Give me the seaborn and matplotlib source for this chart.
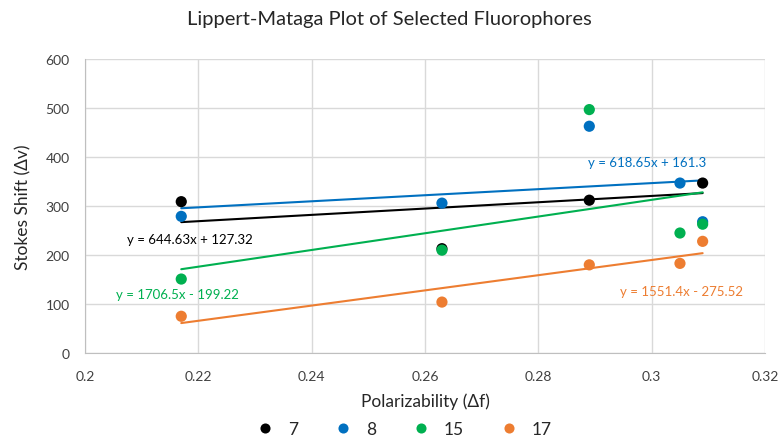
import matplotlib
matplotlib.use("Agg")
import matplotlib.pyplot as plt
import seaborn as sns
import pandas as pd
import numpy as np

# ---- data ----
series_names = ["7", "8", "15", "17"]
x_7 = [0.217, 0.263, 0.289, 0.309]
y_7 = [309, 213, 312, 347]
x_8 = [0.217, 0.263, 0.289, 0.305, 0.309]
y_8 = [279, 306, 463, 347, 268]
x_15 = [0.217, 0.263, 0.289, 0.305, 0.309]
y_15 = [151, 210, 497, 245, 263]
x_17 = [0.217, 0.263, 0.289, 0.305, 0.309]
y_17 = [75, 104, 180, 183, 228]

slopes = [644.63, 618.65, 1706.5, 1551.4]
intercepts = [127.32, 161.3, -199.22, -275.52]
eq_labels = ["y = 644.63x + 127.32", "y = 618.65x + 161.3",
             "y = 1706.5x - 199.22", "y = 1551.4x - 275.52"]
x_ticks = [0.2, 0.22, 0.24, 0.26, 0.28, 0.3, 0.32]
x_tick_labels = ["0.2", "0.22", "0.24", "0.26", "0.28", "0.3", "0.32"]
y_ticks = [0, 100, 200, 300, 400, 500, 600]

colors = ["#000000", "#0070C0", "#00B050", "#ED7D31"]
label_pos = [(0.2185, 233), (0.2992, 390), (0.2164, 120), (0.3053, 127)]

xs = [x_7, x_8, x_15, x_17]
ys = [y_7, y_8, y_15, y_17]
df = pd.concat([pd.DataFrame({"x": xv, "y": yv, "series": n})
                for n, xv, yv in zip(series_names, xs, ys)], ignore_index=True)

sns.set_style("white")
plt.rcParams["font.family"] = ["Lato", "DejaVu Sans"]

fig = plt.figure(figsize=(7.79, 4.39), dpi=100)
ax = fig.add_axes([0.109, 0.1936, 0.873, 0.6694])

palette = dict(zip(series_names, colors))

# trendlines
for n, xv, m, b, c in zip(series_names, xs, slopes, intercepts, colors):
    xl = np.array([min(xv), max(xv)])
    ax.plot(xl, m * xl + b, color=c, lw=1.5, zorder=2)

sns.scatterplot(data=df, x="x", y="y", hue="series", hue_order=series_names,
                palette=palette, s=65, edgecolor="none", ax=ax, zorder=3,
                legend=True)

for (lx, ly), t, c in zip(label_pos, eq_labels, colors):
    ax.text(lx, ly, t, color=c, fontsize=9.5, ha="center", va="center")

ax.set_xlim(0.2, 0.32)
ax.set_ylim(0, 600)
ax.set_xticks(x_ticks)
ax.set_xticklabels(x_tick_labels)
ax.set_yticks(y_ticks)
ax.grid(True, color="#d9d9d9", lw=1)
for s in ["top", "right"]:
    ax.spines[s].set_visible(False)
for s in ["left", "bottom"]:
    ax.spines[s].set_color("#bfbfbf")
ax.tick_params(axis="x", labelsize=10, length=0, pad=12)
ax.tick_params(axis="y", labelsize=10, length=0, pad=11)
for lab in ax.get_xticklabels() + ax.get_yticklabels():
    lab.set_color("#404040")

ax.set_xlabel("Polarizability (Δf)", fontsize=12.5, color="#262626", labelpad=8)
ax.set_ylabel("Stokes Shift (Δv)", fontsize=12.5, color="#262626", labelpad=10)
fig.suptitle("Lippert-Mataga Plot of Selected Fluorophores", fontsize=14.5,
             color="#262626", y=0.975)

handles, labels = ax.get_legend_handles_labels()
ax.legend(handles, labels, loc="center", bbox_to_anchor=(0.463, -0.26),
          ncol=4, frameon=False, fontsize=12.5, handletextpad=0.3,
          columnspacing=1.6, markerscale=0.9, borderaxespad=0)

fig.savefig("out.png", dpi=100)
